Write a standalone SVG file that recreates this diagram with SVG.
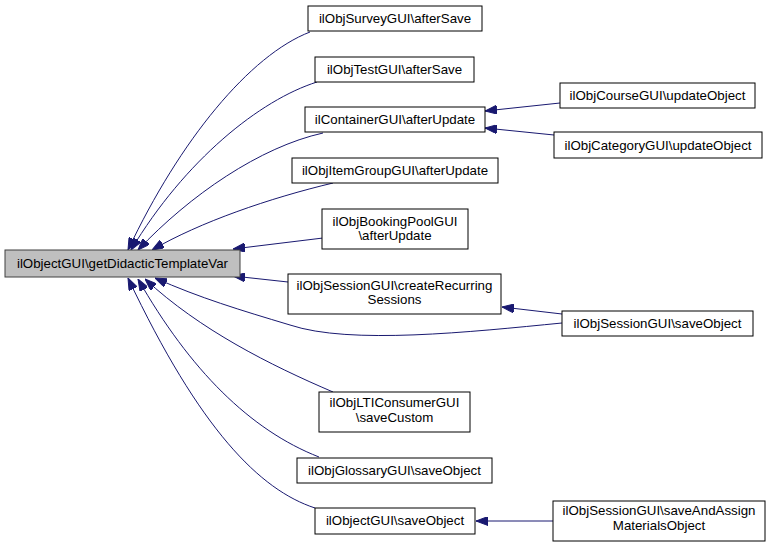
<svg xmlns="http://www.w3.org/2000/svg" width="771" height="547" viewBox="0 0 771 547">
<style>
.n rect{fill:#fff;stroke:#000;stroke-width:1}
.m rect{fill:#bfbfbf;stroke:#404040;stroke-width:1}
text{font-family:"Liberation Sans",Arial,sans-serif;font-size:13.3px;text-anchor:middle;fill:#000}
.e path{fill:none;stroke:#191970;stroke-width:1;marker-end:url(#a)}
</style>
<defs>
<marker id="a" viewBox="0 0 12 9" refX="12" refY="4.5" markerWidth="12" markerHeight="9" markerUnits="userSpaceOnUse" orient="auto">
<path d="M0,0 L12,4.5 L0,9 z" fill="#191970" stroke="#191970"/>
</marker>
</defs>
<rect width="771" height="547" fill="#fff"/>
<g class="e" id="edges">
<path d="M310,32 C250,55 180,140 128,250"/>
<path d="M317,82 C260,100 185,160 131,250"/>
<path d="M323,133 C260,147 190,195 138,250"/>
<path d="M333,183 C270,198 200,222 152,250"/>
<path d="M323,238 L233,249"/>
<path d="M288,282 L233,276"/>
<path d="M562,323 C470,332 350,345 290,325 C240,310 200,298 155,278"/>
<path d="M333,392 C270,365 200,330 145,279"/>
<path d="M319,457 C250,430 190,370 138,279"/>
<path d="M315,508 C260,490 200,430 128,278"/>
<path d="M562,314 L502,307"/>
<path d="M560,103 L485,111"/>
<path d="M554,135 L485,128"/>
<path d="M553,521 L476,521"/>
</g>
<g class="m" id="n0"><rect x="5" y="250" width="235" height="27"/><text x="122.5" y="268">ilObjectGUI\getDidacticTemplateVar</text></g>
<g class="n" id="n1"><rect x="308" y="6" width="174" height="25"/><text x="395" y="23">ilObjSurveyGUI\afterSave</text></g>
<g class="n" id="n2"><rect x="315" y="57" width="159" height="25"/><text x="394.5" y="74">ilObjTestGUI\afterSave</text></g>
<g class="n" id="n3"><rect x="305" y="107" width="180" height="25"/><text x="395" y="124">ilContainerGUI\afterUpdate</text></g>
<g class="n" id="n4"><rect x="292" y="158" width="206" height="25"/><text x="395" y="175">ilObjItemGroupGUI\afterUpdate</text></g>
<g class="n" id="n5"><rect x="322" y="209" width="146" height="40"/><text x="395" y="226">ilObjBookingPoolGUI</text><text x="395" y="240">\afterUpdate</text></g>
<g class="n" id="n6"><rect x="288" y="274" width="213" height="40"/><text x="394.5" y="290">ilObjSessionGUI\createRecurring</text><text x="394.5" y="304">Sessions</text></g>
<g class="n" id="n7"><rect x="562" y="311" width="191" height="25"/><text x="657.5" y="328">ilObjSessionGUI\saveObject</text></g>
<g class="n" id="n8"><rect x="319" y="392" width="151" height="40"/><text x="394.5" y="407">ilObjLTIConsumerGUI</text><text x="394.5" y="422">\saveCustom</text></g>
<g class="n" id="n9"><rect x="297" y="458" width="195" height="25"/><text x="394.5" y="475">ilObjGlossaryGUI\saveObject</text></g>
<g class="n" id="n10"><rect x="315" y="508" width="160" height="26"/><text x="395" y="525">ilObjectGUI\saveObject</text></g>
<g class="n" id="n11"><rect x="553" y="501" width="212" height="40"/><text x="659" y="515">ilObjSessionGUI\saveAndAssign</text><text x="659" y="530">MaterialsObject</text></g>
<g class="n" id="n12"><rect x="560" y="83" width="195" height="25"/><text x="657.5" y="100">ilObjCourseGUI\updateObject</text></g>
<g class="n" id="n13"><rect x="554" y="132" width="208" height="26"/><text x="658" y="150">ilObjCategoryGUI\updateObject</text></g>
</svg>
